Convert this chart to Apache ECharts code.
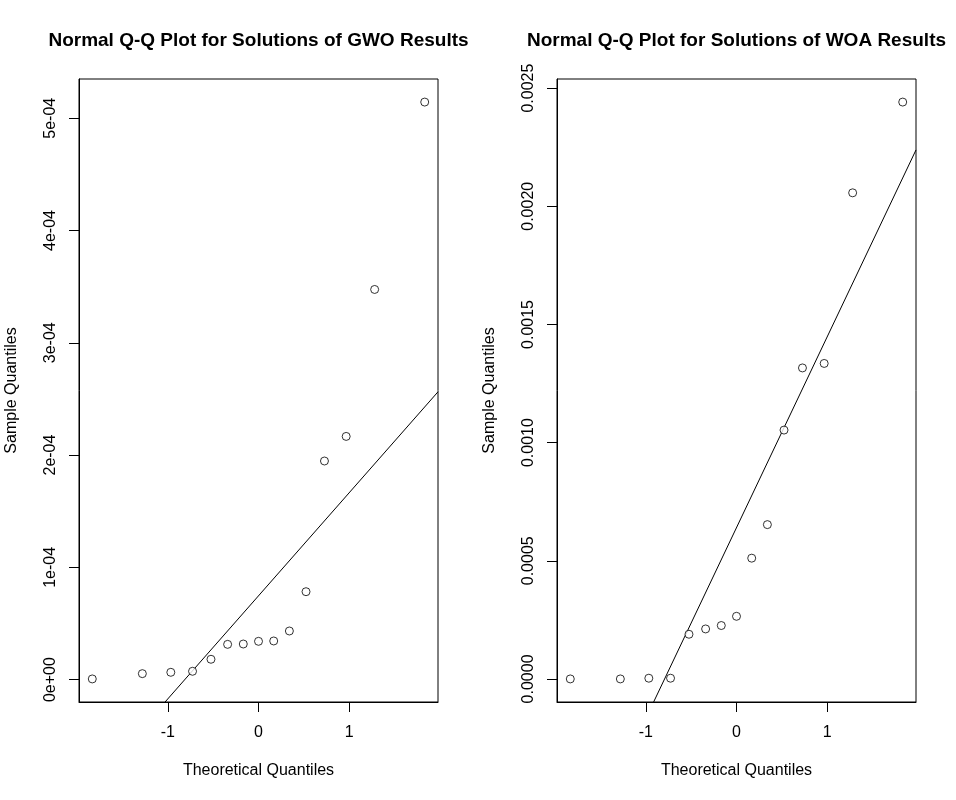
<!DOCTYPE html>
<html>
<head>
<meta charset="utf-8">
<script src="https://cdn.jsdelivr.net/npm/echarts@6/dist/echarts.min.js"></script>
<style>
  html, body { margin: 0; padding: 0; background: #fff; }
  #chart { width: 956px; height: 800px; }
</style>
</head>
<body>
<div id="chart"></div>
<script>
// theoretical normal quantiles for n = 15 (ppoints)
const theoretical = [-1.8339, -1.2816, -0.9674, -0.7279, -0.5244, -0.3407, -0.1679, 0,
  0.1679, 0.3407, 0.5244, 0.7279, 0.9674, 1.2816, 1.8339];

// sorted sample values
const gwoSample = [0.0000006, 0.0000053, 0.0000065, 0.0000074, 0.0000181, 0.0000314, 0.0000317,
  0.0000341, 0.0000344, 0.0000433, 0.0000783, 0.0001947, 0.0002166, 0.0003475, 0.0005144];
const woaSample = [0.0000000, 0.0000000, 0.0000030, 0.0000030, 0.0001890, 0.0002115, 0.0002260,
  0.0002650, 0.0005110, 0.0006530, 0.0010530, 0.0013160, 0.0013350, 0.0020570, 0.0024410];

const xTicks = [-1, 0, 1];
const gwoTicks = [0, 0.0001, 0.0002, 0.0003, 0.0004, 0.0005];
const gwoTickLabels = ["0e+00", "1e-04", "2e-04", "3e-04", "4e-04", "5e-04"];
const woaTicks = [0, 0.0005, 0.001, 0.0015, 0.002, 0.0025];
const woaTickLabels = ["0.0000", "0.0005", "0.0010", "0.0015", "0.0020", "0.0025"];

const titles = ["Normal Q-Q Plot for Solutions of GWO Results", "Normal Q-Q Plot for Solutions of WOA Results"];

const FONT = "Liberation Sans, Arial, Helvetica, sans-serif";

// R's default 4% axis padding
function padRange(values) {
  const lo = Math.min(...values);
  const hi = Math.max(...values);
  const pad = (hi - lo) * 0.04;
  return [lo - pad, hi + pad];
}

// type-7 quantile, as qqline uses
function quantile(sorted, p) {
  const h = (sorted.length - 1) * p;
  const i = Math.floor(h);
  return sorted[i] + (h - i) * (sorted[Math.min(i + 1, sorted.length - 1)] - sorted[i]);
}

function qqLine(sample, xRange) {
  const q1 = quantile(sample, 0.25);
  const q3 = quantile(sample, 0.75);
  const z = 0.6744898;
  const slope = (q3 - q1) / (2 * z);
  const intercept = q1 + z * slope;
  return xRange.map((x) => [x, intercept + slope * x]);
}

function labelFor(ticks, labels) {
  return (value) => {
    let best = 0;
    ticks.forEach((t, i) => {
      if (Math.abs(t - value) < Math.abs(ticks[best] - value)) best = i;
    });
    return labels[best];
  };
}

const xRange = padRange(theoretical);
const panels = [
  { sample: gwoSample, ticks: gwoTicks, labels: gwoTickLabels, left: 79 },
  { sample: woaSample, ticks: woaTicks, labels: woaTickLabels, left: 557 },
];

const chart = echarts.init(document.getElementById("chart"), null, { renderer: "canvas" });

const axisText = { color: "#000", fontFamily: FONT, fontSize: 16 };

chart.setOption({
  backgroundColor: "#fff",
  animation: false,
  title: panels.map((p, i) => ({
    text: titles[i],
    left: p.left + 174.5,
    top: 26,
    textAlign: "center",
    textStyle: { fontFamily: FONT, fontSize: 19, fontWeight: "bold", color: "#000" },
  })),
  grid: panels.map((p) => ({
    left: p.left,
    top: 79,
    width: 359,
    height: 623,
    show: true,
    borderColor: "#000",
    borderWidth: 1,
    backgroundColor: "transparent",
  })),
  xAxis: panels.map((p, i) => ({
    gridIndex: i,
    type: "value",
    min: xRange[0],
    max: xRange[1],
    name: "Theoretical Quantiles",
    nameLocation: "middle",
    nameGap: 61,
    nameTextStyle: axisText,
    axisLine: { show: true, onZero: false, lineStyle: { color: "#000", width: 1 } },
    axisTick: { show: true, inside: false, length: 10, customValues: xTicks, lineStyle: { color: "#000" } },
    axisLabel: { ...axisText, margin: 23, customValues: xTicks, formatter: (v) => String(Math.round(v)) },
    splitLine: { show: false },
  })),
  yAxis: panels.map((p, i) => {
    const yRange = padRange(p.sample);
    return {
      gridIndex: i,
      type: "value",
      min: yRange[0],
      max: yRange[1],
      name: "Sample Quantiles",
      nameLocation: "middle",
      nameRotate: 90,
      nameGap: 59,
      nameTextStyle: axisText,
      axisLine: { show: true, onZero: false, lineStyle: { color: "#000", width: 1 } },
      axisTick: { show: true, inside: false, length: 10, customValues: p.ticks, lineStyle: { color: "#000" } },
      axisLabel: {
        ...axisText,
        rotate: 90,
        margin: 20,
        customValues: p.ticks,
        formatter: labelFor(p.ticks, p.labels),
      },
      splitLine: { show: false },
    };
  }),
  series: panels.flatMap((p, i) => [
    {
      type: "scatter",
      xAxisIndex: i,
      yAxisIndex: i,
      data: theoretical.map((x, k) => [x, p.sample[k]]),
      symbol: "circle",
      symbolSize: 8,
      itemStyle: { color: "#fff", borderColor: "#000", borderWidth: 1 },
      z: 3,
    },
    {
      type: "line",
      xAxisIndex: i,
      yAxisIndex: i,
      data: qqLine(p.sample, xRange),
      showSymbol: false,
      clip: true,
      lineStyle: { color: "#000", width: 1 },
      z: 2,
    },
  ]),
});
</script>
</body>
</html>
